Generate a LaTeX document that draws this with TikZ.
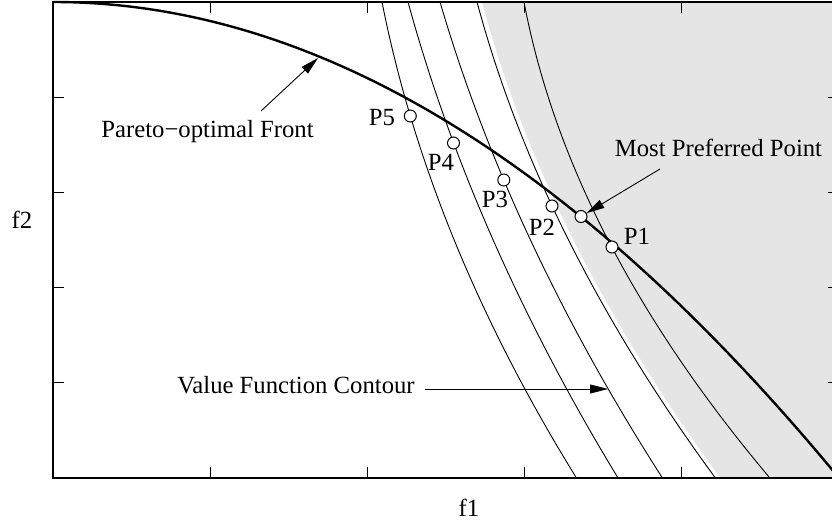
\documentclass[tikz,border=0pt]{standalone}
\usepackage{fontspec}
\setmainfont{Liberation Serif}
\usetikzlibrary{arrows.meta}
\definecolor{shadegray}{RGB}{229,229,229}
\begin{document}
\begin{tikzpicture}[x=1pt,y=-1pt,
  lbl/.style={font=\fontsize{24.7}{29}\selectfont, inner sep=0pt, anchor=base},
  frameline/.style={line width=1.6pt},
  tickline/.style={line width=1.3pt},
  front/.style={line width=2.4pt},
  contour/.style={line width=0.9pt},
  pt/.style={circle, draw, fill=white, line width=1pt, minimum size=12pt, inner sep=0pt},
  arr/.style={line width=0.9pt, -{Triangle[length=18pt,width=9pt]}},
]
\useasboundingbox (0,0) rectangle (832,524);
\begin{scope}
\clip (0,0) rectangle (832,524);
% preferred region
\fill[shadegray] plot[domain=2:478, samples=60, variable=\t] ({481.47+0.2664*\t+0.0004866*\t*\t},\t) -- (845,478) -- (845,2) -- cycle;
% value function contours
\draw[contour] plot[domain=2:478, samples=60, variable=\t] ({381.6+0.1962*\t+0.0004447*\t*\t},\t);
\draw[contour] plot[domain=2:478, samples=60, variable=\t] ({407.45+0.2728*\t+0.0003551*\t*\t},\t);
\draw[contour] plot[domain=2:478, samples=60, variable=\t] ({439.42+0.2915*\t+0.0003688*\t*\t},\t);
\draw[contour] plot[domain=2:478, samples=60, variable=\t] ({476.47+0.2664*\t+0.0004866*\t*\t},\t);
\draw[contour] plot[domain=2:478, samples=60, variable=\t] ({523.62+0.1870*\t+0.0006915*\t*\t},\t);
% Pareto-optimal front
\draw[front] plot[domain=53:839, samples=120, variable=\s] (\s,{2+476*((\s-53)/786)^2});
% frame and ticks
\draw[frameline] (53,2) rectangle (839,478);
\foreach \k in {1,...,4} {
  \draw[tickline] ({53+157.2*\k},478) -- ++(0,-11);
  \draw[tickline] ({53+157.2*\k},2) -- ++(0,11);
  \draw[tickline] (53,{2+95.2*\k}) -- ++(11,0);
  \draw[tickline] (839,{2+95.2*\k}) -- ++(-11,0);
}
\end{scope}
% points
\node[pt] (p5) at (410.3,116) {};
\node[pt] (p4) at (453.5,143) {};
\node[pt] (p3) at (503.8,180) {};
\node[pt] (p2) at (552,206) {};
\node[pt] (mpp) at (581,216.5) {};
\node[pt] (p1) at (612,247) {};
% point labels
\node[lbl] (l5) at (382,126) {P5};
\node[lbl] (l4) at (441,170) {P4};
\node[lbl] (l3) at (495,207) {P3};
\node[lbl] (l2) at (542,235) {P2};
\node[lbl] (l1) at (637,244) {P1};
% annotations
\node[lbl] (pfl) at (207.5,137) {Pareto−optimal Front};
\coordinate (pfTail) at (261,111);
\coordinate (pfTip) at (318,58);
\draw[arr] (pfTail) -- (pfTip);
\node[lbl] (mppl) at (718.5,157) {Most Preferred Point};
\coordinate (mppTail) at (660,169);
\draw[arr] (mppTail) -- (mpp);
\node[lbl] (vfl) at (296,393) {Value Function Contour};
\coordinate (vfTail) at (425,389);
\coordinate (vfTip) at (608,389);
\draw[arr] (vfTail) -- (vfTip);
% axis labels
\node[lbl] (xl) at (469,516) {f1};
\node[lbl] (yl) at (22,228) {f2};
\end{tikzpicture}
\end{document}
